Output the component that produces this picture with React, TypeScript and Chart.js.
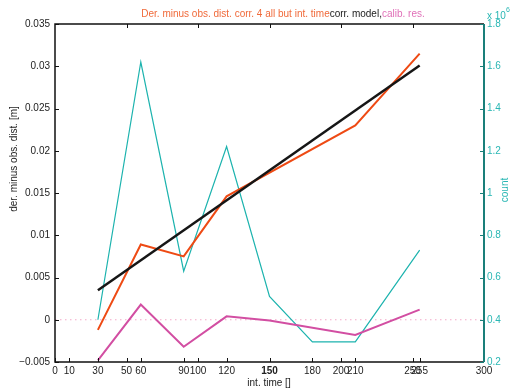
import React, { useEffect, useRef } from "react";
import { Chart, registerables } from "chart.js";

Chart.register(...registerables);

const xTickValues = [0, 10, 30, 50, 60, 90, 100, 120, 150, 180, 200, 210, 250, 255, 300];
const topTickValues = [50, 100, 150, 200, 250];

const corrX = [30, 60, 90, 120, 210, 255];
const corrY = [-0.0012, 0.0089, 0.0075, 0.0146, 0.023, 0.0315];

const modelX = [30, 255];
const modelY = [0.0035, 0.0301];

const calibX = [30, 60, 90, 120, 150, 210, 255];
const calibY = [-0.0048, 0.0018, -0.0032, 0.0004, -0.0001, -0.0018, 0.0012];

const countX = [30, 60, 90, 120, 150, 180, 210, 255];
const countY = [400000, 1620000, 630000, 1220000, 510000, 295000, 295000, 730000];

const zeroX = [0, 300];
const zeroY = [0, 0];

const FONT = "'Liberation Sans', Arial, Helvetica, sans-serif";
const ORANGE = "#ee4a14";
const MAGENTA = "#d24ea2";
const TEAL = "#1cb3ae";
const TEAL_DARK = "#1a7f7a";
const TEAL_TEXT = "#2ab7b4";

const pts = (xs: number[], ys: number[]) => xs.map((x, i) => ({ x, y: ys[i] }));

const fmt = (v: number) => {
  const s = String(Number(v.toFixed(4)));
  return s.replace("-", "\u2212");
};

const decorPlugin = {
  id: "decor",
  afterDraw(chart: any) {
    const { ctx, chartArea } = chart;
    const { left, right, top, bottom } = chartArea;
    const xs = chart.scales.x;
    const ys = chart.scales.y;
    const y2 = chart.scales.y2;
    ctx.save();
    // box
    ctx.lineCap = "butt";
    ctx.strokeStyle = "#111";
    ctx.lineWidth = 1.5;
    ctx.beginPath();
    ctx.moveTo(right, top);
    ctx.lineTo(left, top);
    ctx.lineTo(left, bottom);
    ctx.lineTo(right, bottom);
    ctx.stroke();
    // ticks
    ctx.lineWidth = 1;
    ctx.beginPath();
    xTickValues.forEach((v) => {
      const px = Math.round(xs.getPixelForValue(v)) + 0.5;
      ctx.moveTo(px, bottom);
      ctx.lineTo(px, bottom - 4);
    });
    topTickValues.forEach((v) => {
      const px = Math.round(xs.getPixelForValue(v)) + 0.5;
      ctx.moveTo(px, top);
      ctx.lineTo(px, top + 4);
    });
    ys.ticks.forEach((t: any) => {
      const py = Math.round(ys.getPixelForValue(t.value)) + 0.5;
      ctx.moveTo(left, py);
      ctx.lineTo(left + 4, py);
    });
    ctx.stroke();
    // right axis
    ctx.strokeStyle = TEAL_DARK;
    ctx.lineWidth = 2;
    ctx.beginPath();
    ctx.moveTo(right, top);
    ctx.lineTo(right, bottom);
    ctx.stroke();
    ctx.lineWidth = 1;
    ctx.beginPath();
    y2.ticks.forEach((t: any) => {
      const py = Math.round(y2.getPixelForValue(t.value)) + 0.5;
      ctx.moveTo(right, py);
      ctx.lineTo(right - 4, py);
    });
    ctx.stroke();

    // header legend text
    ctx.font = `10px ${FONT}`;
    ctx.textBaseline = "middle";
    ctx.textAlign = "left";
    const parts = [
      { t: "Der. minus obs. dist. corr. 4 all but int. time", c: "#f06a3a" },
      { t: "corr. model,", c: "#222" },
      { t: "calib. res.", c: "#e070b8" },
    ];
    const total = parts.reduce((s, p) => s + ctx.measureText(p.t).width, 0);
    let cx = 283 - total / 2;
    parts.forEach((p) => {
      ctx.fillStyle = p.c;
      ctx.fillText(p.t, cx, 14);
      cx += ctx.measureText(p.t).width;
    });

    // x10^6
    ctx.fillStyle = TEAL_TEXT;
    ctx.fillText("x 10", right + 3, 16);
    ctx.font = `7px ${FONT}`;
    ctx.fillText("6", right + 3 + 19, 10);

    // axis titles
    ctx.font = `10px ${FONT}`;
    ctx.fillStyle = "#222";
    ctx.textAlign = "center";
    ctx.fillText("int. time []", 269, 383);

    ctx.save();
    ctx.translate(14, 159);
    ctx.rotate(-Math.PI / 2);
    ctx.fillText("der. minus obs. dist. [m]", 0, 0);
    ctx.restore();

    ctx.save();
    ctx.translate(505, 190);
    ctx.rotate(-Math.PI / 2);
    ctx.fillStyle = TEAL_TEXT;
    ctx.fillText("count", 0, 0);
    ctx.restore();

    ctx.restore();
  },
};

export default function App() {
  const ref = useRef<HTMLCanvasElement | null>(null);

  useEffect(() => {
    document.body.style.margin = "0";
    const canvas = ref.current;
    if (!canvas) return;
    const chart = new Chart(canvas, {
      type: "line",
      data: {
        datasets: [
          {
            label: "corr",
            data: pts(corrX, corrY),
            borderColor: ORANGE,
            borderWidth: 2,
            pointRadius: 0,
            yAxisID: "y",
            order: 2,
          },
          {
            label: "model",
            data: pts(modelX, modelY),
            borderColor: "#161616",
            borderWidth: 2.5,
            pointRadius: 0,
            yAxisID: "y",
            order: 1,
          },
          {
            label: "calib",
            data: pts(calibX, calibY),
            borderColor: MAGENTA,
            borderWidth: 2,
            pointRadius: 0,
            yAxisID: "y",
            order: 3,
          },
          {
            label: "count",
            data: pts(countX, countY),
            borderColor: TEAL,
            borderWidth: 1.2,
            pointRadius: 0,
            yAxisID: "y2",
            order: 4,
          },
          {
            label: "zero",
            data: pts(zeroX, zeroY),
            borderColor: "#f4a8c8",
            borderWidth: 1,
            borderDash: [1.5, 3.5],
            pointRadius: 0,
            yAxisID: "y",
            order: 5,
          },
        ],
      },
      options: {
        responsive: false,
        animation: false,
        devicePixelRatio: 1,
        parsing: true,
        layout: { padding: { top: 24, left: 0, right: 0, bottom: 0 } },
        plugins: { legend: { display: false }, tooltip: { enabled: false }, title: { display: false } },
        elements: { line: { tension: 0 } },
        scales: {
          x: {
            type: "linear",
            position: "bottom",
            min: 0,
            max: 300,
            grid: { display: false, drawTicks: false, tickLength: 0 },
            border: { display: false },
            afterBuildTicks: (scale: any) => {
              scale.ticks = xTickValues.map((v) => ({ value: v }));
            },
            afterFit: (scale: any) => {
              scale.height = 29;
            },
            ticks: {
              autoSkip: false,
              maxRotation: 0,
              minRotation: 0,
              padding: 3,
              color: "#222",
              font: (c: any) => ({
                family: FONT,
                size: 10,
                weight: c.tick && c.tick.value === 150 ? "bold" : "normal",
              }),
              callback: (v: any) => String(v),
            },
          },
          y: {
            type: "linear",
            position: "left",
            min: -0.005,
            max: 0.035,
            grid: { display: false, drawTicks: false, tickLength: 0 },
            border: { display: false },
            afterFit: (scale: any) => {
              scale.width = 55;
            },
            ticks: {
              stepSize: 0.005,
              padding: 5,
              color: "#222",
              font: { family: FONT, size: 10 },
              callback: (v: any) => fmt(Number(v)),
            },
          },
          y2: {
            type: "linear",
            position: "right",
            min: 200000,
            max: 1800000,
            grid: { display: false, drawTicks: false, tickLength: 0 },
            border: { display: false },
            afterFit: (scale: any) => {
              scale.width = 27;
            },
            ticks: {
              stepSize: 200000,
              padding: 3,
              color: TEAL_TEXT,
              font: { family: FONT, size: 10 },
              callback: (v: any) => fmt(Number(v) / 1e6),
            },
          },
        },
      },
      plugins: [decorPlugin],
    } as any);
    return () => chart.destroy();
  }, []);

  return <canvas ref={ref} width={511} height={391} style={{ display: "block" }} />;
}
